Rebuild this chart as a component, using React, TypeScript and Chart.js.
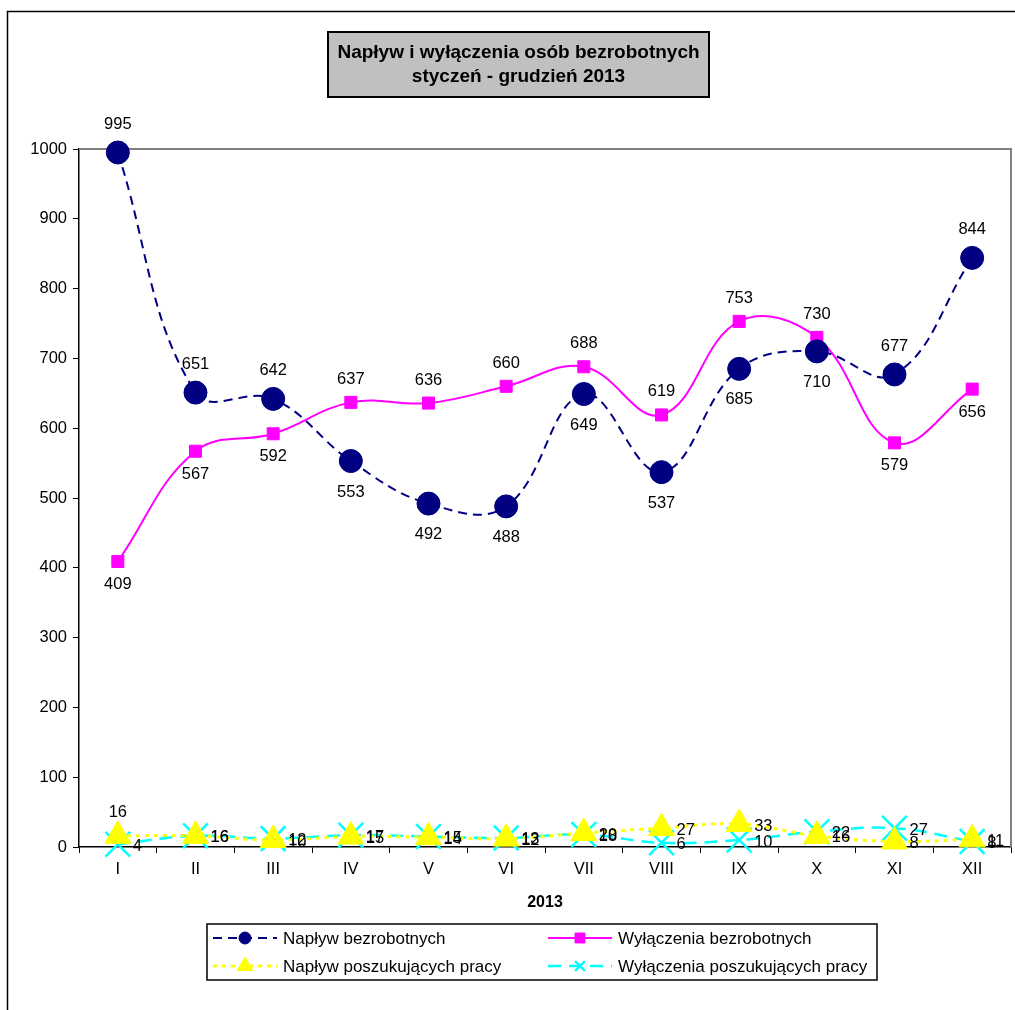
import React, { useEffect, useRef } from "react";
import { Chart, registerables } from "chart.js";
import { drawPoint } from "chart.js/helpers";

Chart.register(...registerables);

const categories = ["I", "II", "III", "IV", "V", "VI", "VII", "VIII", "IX", "X", "XI", "XII"];
const naplywBezrobotnych = [995, 651, 642, 553, 492, 488, 649, 537, 685, 710, 677, 844];
const wylaczeniaBezrobotnych = [409, 567, 592, 637, 636, 660, 688, 619, 753, 730, 579, 656];
const naplywPoszukujacych = [16, 16, 10, 15, 14, 12, 20, 27, 33, 16, 8, 11];
const wylaczeniaPoszukujacych = [4, 16, 12, 17, 15, 13, 18, 6, 10, 22, 27, 8];
const yTicks = [0, 100, 200, 300, 400, 500, 600, 700, 800, 900, 1000];
const titleLines = ["Napływ i wyłączenia osób bezrobotnych", "styczeń - grudzień 2013"];
const xTitle = "2013";

const FONT = "'Liberation Sans', Arial, sans-serif";
const LABEL_SIZE = 16.5;

const frameAndTitle = {
  id: "frameAndTitle",
  beforeDraw(chart: any) {
    const ctx = chart.ctx;
    ctx.save();
    ctx.fillStyle = "#ffffff";
    ctx.fillRect(0, 0, chart.width, chart.height);
    ctx.strokeStyle = "#000";
    ctx.lineWidth = 1.5;
    ctx.beginPath();
    ctx.moveTo(7.5, chart.height + 5);
    ctx.lineTo(7.5, 11.5);
    ctx.lineTo(chart.width + 5, 11.5);
    ctx.stroke();
    ctx.restore();
  },
  beforeDatasetsDraw(chart: any) {
    const { ctx, chartArea } = chart;
    ctx.save();
    ctx.strokeStyle = "#808080";
    ctx.lineWidth = 2;
    ctx.beginPath();
    ctx.moveTo(chartArea.left, chartArea.top);
    ctx.lineTo(chartArea.right, chartArea.top);
    ctx.lineTo(chartArea.right, chartArea.bottom);
    ctx.stroke();
    ctx.restore();
  },
  afterDraw(chart: any) {
    const { ctx, chartArea } = chart;
    ctx.save();
    // title box
    const bx = 328, by = 32, bw = 381, bh = 65;
    ctx.fillStyle = "#c0c0c0";
    ctx.fillRect(bx, by, bw, bh);
    ctx.strokeStyle = "#000";
    ctx.lineWidth = 2;
    ctx.strokeRect(bx, by, bw, bh);
    ctx.fillStyle = "#000";
    ctx.font = `bold 19px ${FONT}`;
    ctx.textAlign = "center";
    ctx.textBaseline = "middle";
    ctx.fillText(titleLines[0], bx + bw / 2, 53);
    ctx.fillText(titleLines[1], bx + bw / 2, 77);
    // x axis title
    ctx.font = `bold 16px ${FONT}`;
    ctx.fillText(xTitle, (chartArea.left + chartArea.right) / 2, 903);
    // legend
    const lx = 207, ly = 924, lw = 670, lh = 56;
    ctx.fillStyle = "#fff";
    ctx.fillRect(lx, ly, lw, lh);
    ctx.strokeStyle = "#000";
    ctx.lineWidth = 1.5;
    ctx.strokeRect(lx, ly, lw, lh);
    const slots = [
      { x: 213, y: 938 },
      { x: 548, y: 938 },
      { x: 213, y: 966 },
      { x: 548, y: 966 },
    ];
    const legendRadius = [6, 7, 9, 7];
    chart.data.datasets.forEach((ds: any, i: number) => {
      const s = slots[i];
      ctx.save();
      ctx.strokeStyle = ds.borderColor;
      ctx.lineWidth = ds.borderWidth;
      ctx.setLineDash(ds.borderDash || []);
      ctx.beginPath();
      ctx.moveTo(s.x, s.y);
      ctx.lineTo(s.x + 64, s.y);
      ctx.stroke();
      ctx.setLineDash([]);
      ctx.fillStyle = ds.pointBackgroundColor;
      ctx.strokeStyle = ds.pointBorderColor;
      ctx.lineWidth = ds.pointBorderWidth;
      drawPoint(ctx, { pointStyle: ds.pointStyle, radius: legendRadius[i], borderWidth: ds.pointBorderWidth, rotation: 0 }, s.x + 32, s.y);
      ctx.restore();
      ctx.fillStyle = "#000";
      ctx.font = `17px ${FONT}`;
      ctx.textAlign = "left";
      ctx.textBaseline = "middle";
      ctx.fillText(ds.label, s.x + 70, s.y + 1);
    });
    ctx.restore();
  },
};

// per-dataset label placement: 'auto' = above if larger than companion series, else below
const labelPlacement = ["auto", "auto", "right", "right"];
const labelOverrides: Record<string, string> = { "2-0": "top" };

const dataLabels = {
  id: "dataLabels",
  afterDatasetsDraw(chart: any) {
    const ctx = chart.ctx;
    ctx.save();
    ctx.fillStyle = "#000";
    ctx.font = `${LABEL_SIZE}px ${FONT}`;
    ctx.textBaseline = "middle";
    const dsets = chart.data.datasets;
    dsets.forEach((ds: any, di: number) => {
      const meta = chart.getDatasetMeta(di);
      meta.data.forEach((pt: any, i: number) => {
        const v = ds.data[i];
        let place = labelOverrides[`${di}-${i}`] || labelPlacement[di];
        if (place === "auto") {
          const other = dsets[di === 0 ? 1 : 0].data[i];
          place = v >= other ? "top" : "bottom";
        }
        const isCircle = di === 0;
        if (place === "top") {
          ctx.textAlign = "center";
          ctx.fillText(String(v), pt.x, pt.y - (isCircle ? 28 : 23));
        } else if (place === "bottom") {
          ctx.textAlign = "center";
          ctx.fillText(String(v), pt.x, pt.y + (isCircle ? 31 : 23));
        } else {
          ctx.textAlign = "left";
          ctx.fillText(String(v), pt.x + 15, pt.y + 2);
        }
      });
    });
    ctx.restore();
  },
};

export default function App() {
  const ref = useRef<HTMLCanvasElement | null>(null);
  useEffect(() => {
    if (!ref.current) return;
    const chart = new Chart(ref.current, {
      type: "line",
      data: {
        labels: categories,
        datasets: [
          {
            label: "Napływ bezrobotnych",
            data: naplywBezrobotnych,
            borderColor: "#000080",
            backgroundColor: "#000080",
            pointBackgroundColor: "#000080",
            pointBorderColor: "#000080",
            pointBorderWidth: 1,
            borderWidth: 2,
            borderDash: [9, 6],
            pointStyle: "circle",
            pointRadius: 11.5,
            tension: 0.4,
            clip: false,
          },
          {
            label: "Wyłączenia bezrobotnych",
            data: wylaczeniaBezrobotnych,
            borderColor: "#ff00ff",
            backgroundColor: "#ff00ff",
            pointBackgroundColor: "#ff00ff",
            pointBorderColor: "#ff00ff",
            pointBorderWidth: 1,
            borderWidth: 2,
            borderDash: [],
            pointStyle: "rect",
            pointRadius: 8.5,
            tension: 0.4,
            clip: false,
          },
          {
            label: "Napływ poszukujących pracy",
            data: naplywPoszukujacych,
            borderColor: "#ffff00",
            backgroundColor: "#ffff00",
            pointBackgroundColor: "#ffff00",
            pointBorderColor: "#ffff00",
            pointBorderWidth: 1,
            borderWidth: 3,
            borderDash: [4, 5],
            pointStyle: "triangle",
            pointRadius: 15,
            tension: 0.4,
            clip: false,
          },
          {
            label: "Wyłączenia poszukujących pracy",
            data: wylaczeniaPoszukujacych,
            borderColor: "#00ffff",
            backgroundColor: "#00ffff",
            pointBackgroundColor: "#00ffff",
            pointBorderColor: "#00ffff",
            pointBorderWidth: 2.5,
            borderWidth: 2.5,
            borderDash: [13, 8],
            pointStyle: "crossRot",
            pointRadius: 17.5,
            tension: 0.4,
            clip: false,
          },
        ],
      },
      options: {
        animation: false,
        responsive: false,
        layout: { autoPadding: false, padding: { left: 0, top: 149, right: 4, bottom: 98 } },
        plugins: {
          legend: { display: false },
          title: { display: false },
          tooltip: { enabled: false },
        },
        scales: {
          x: {
            type: "category",
            offset: true,
            afterFit: (s: any) => {
              s.height = 65;
              s.paddingLeft = 0;
              s.paddingRight = 0;
            },
            grid: {
              offset: true,
              drawOnChartArea: false,
              drawTicks: true,
              tickLength: 6,
              color: "#000",
            },
            border: { color: "#000", width: 1.5 },
            ticks: { color: "#000", font: { family: FONT, size: LABEL_SIZE }, padding: 7, maxRotation: 0, autoSkip: false },
          },
          y: {
            min: yTicks[0],
            max: yTicks[yTicks.length - 1],
            afterFit: (s: any) => { s.width = 79; },
            afterBuildTicks: (s: any) => { s.ticks = yTicks.map((v) => ({ value: v })); },
            grid: {
              drawOnChartArea: false,
              drawTicks: true,
              tickLength: 6,
              color: "#000",
            },
            border: { color: "#000", width: 1.5 },
            ticks: {
              color: "#000",
              font: { family: FONT, size: LABEL_SIZE },
              padding: 6,
              callback: (v: any) => String(v),
            },
          },
        },
      },
      plugins: [frameAndTitle, dataLabels],
    } as any);
    return () => chart.destroy();
  }, []);
  return (
    <div style={{ position: "absolute", left: 0, top: 0, width: 1015, height: 1010 }}>
      <canvas ref={ref} width={1015} height={1010} style={{ width: 1015, height: 1010 }} />
    </div>
  );
}
